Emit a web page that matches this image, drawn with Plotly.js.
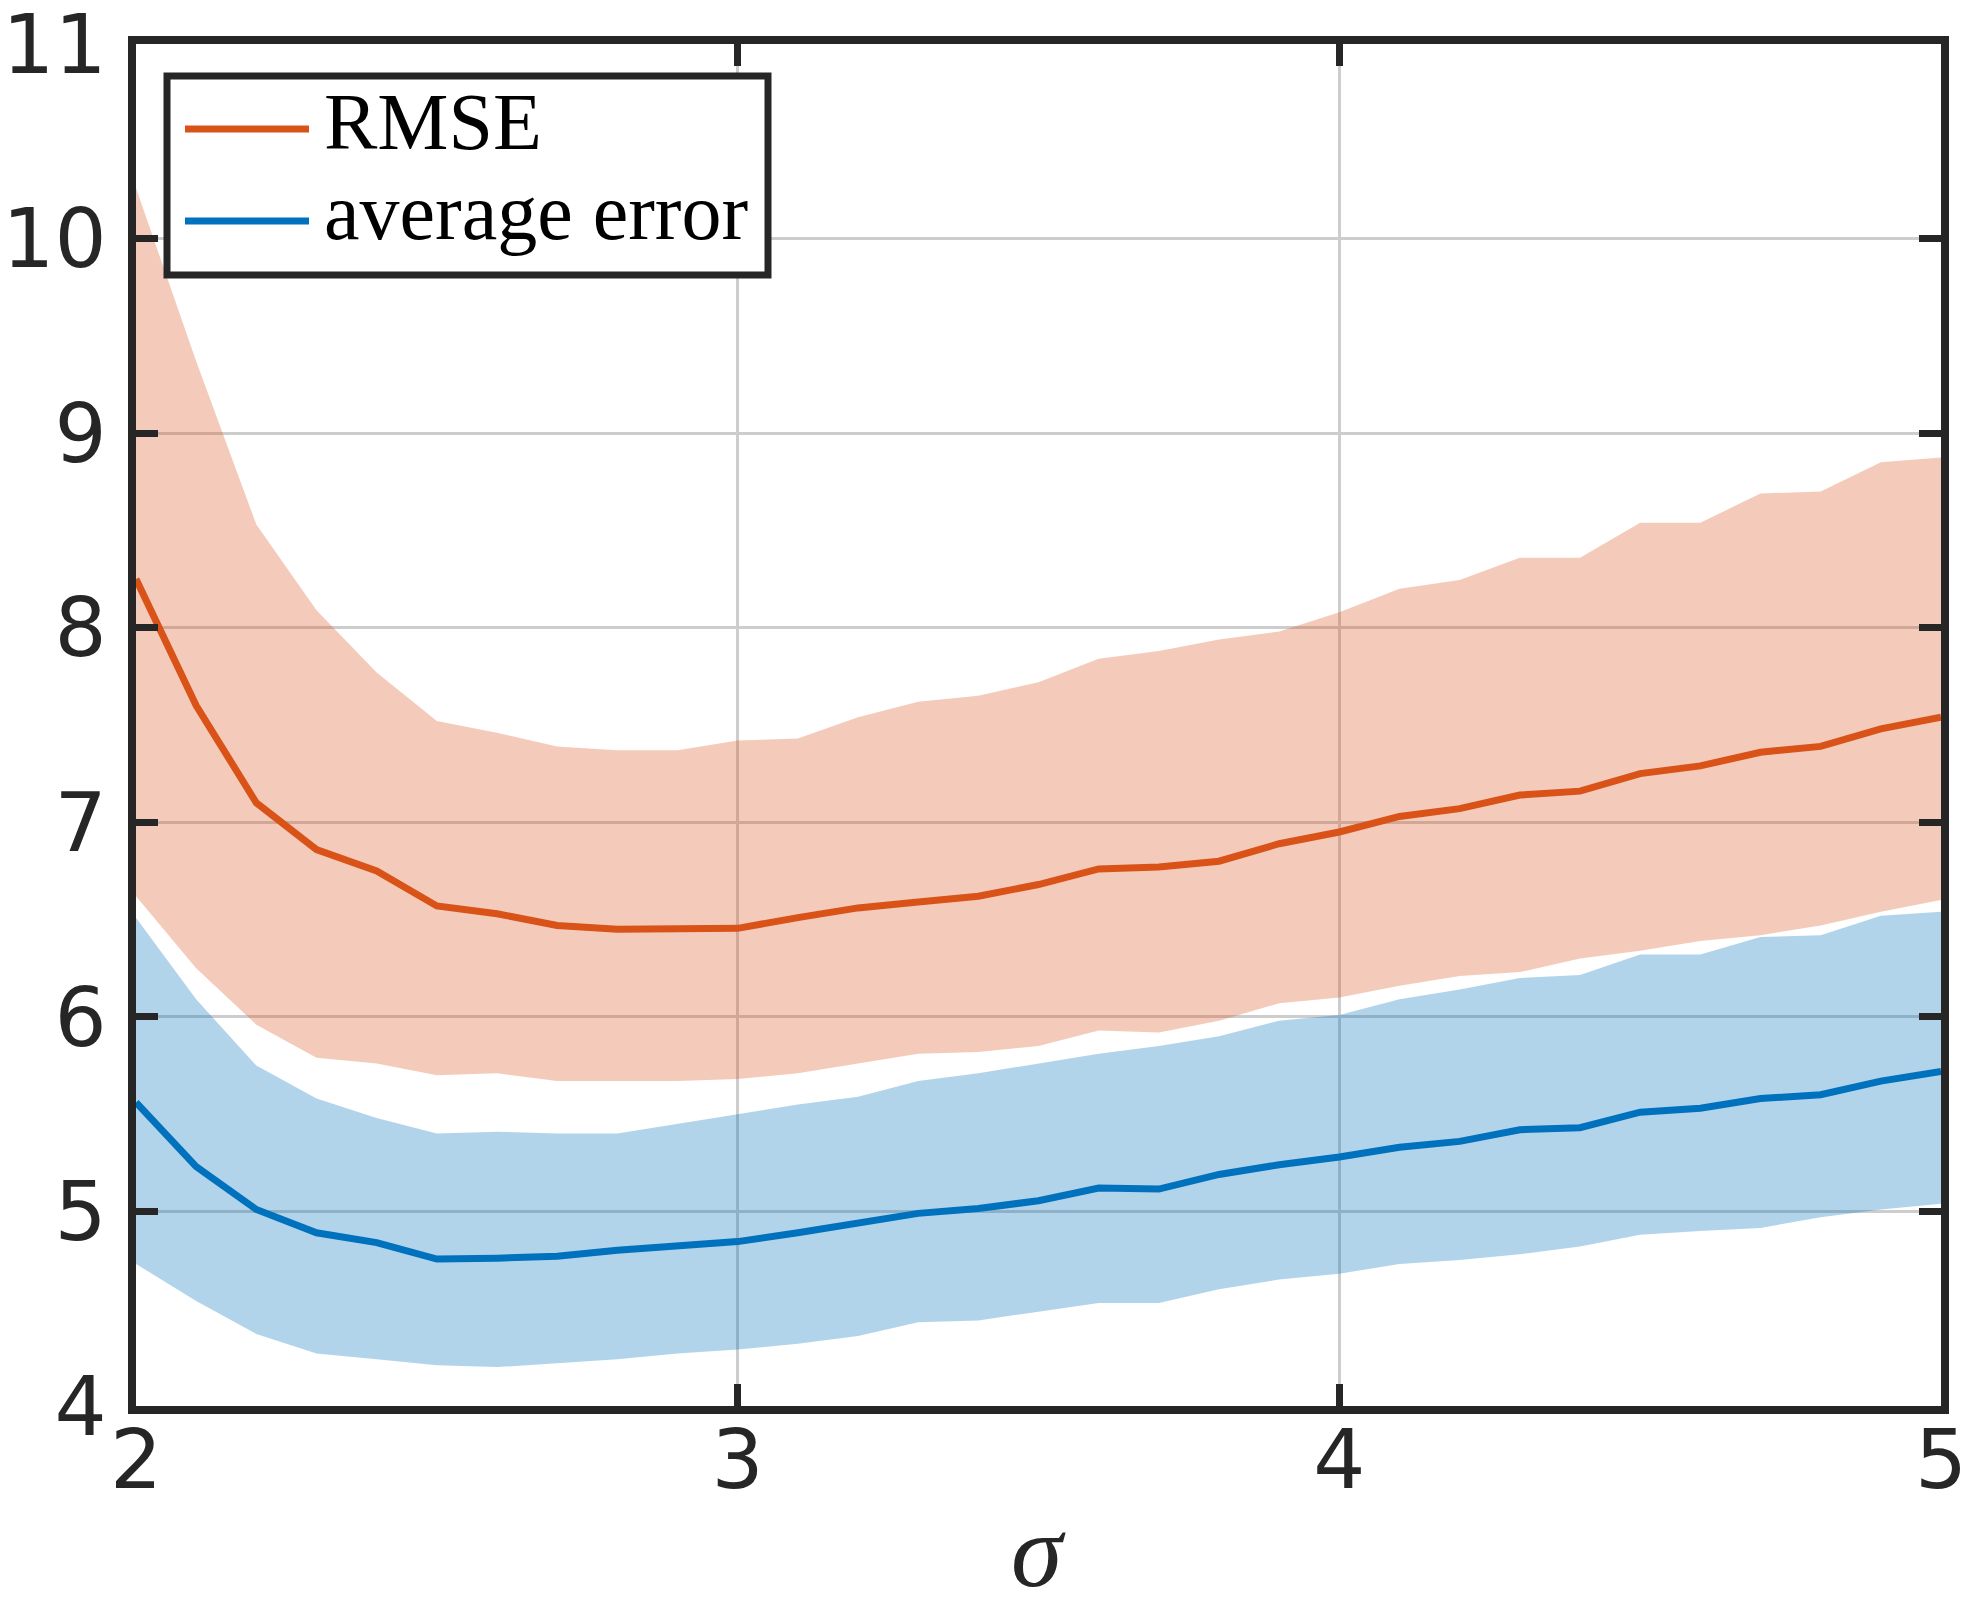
<!DOCTYPE html>
<html>
<head>
<meta charset="utf-8">
<script src="https://cdn.plot.ly/plotly-3.0.1.min.js"></script>
<style>
  html, body { margin: 0; padding: 0; background: #fff; }
  #chart { width: 1971px; height: 1601px; }
</style>
</head>
<body>
<div id="chart"></div>
<script>
'use strict';

// sigma values (x axis)
const sigma = [2.0, 2.1, 2.2, 2.3, 2.4, 2.5, 2.6, 2.7, 2.8, 2.9, 3.0,
               3.1, 3.2, 3.3, 3.4, 3.5, 3.6, 3.7, 3.8, 3.9, 4.0,
               4.1, 4.2, 4.3, 4.4, 4.5, 4.6, 4.7, 4.8, 4.9, 5.0];

const rmse = [8.25, 7.60, 7.10, 6.86, 6.75, 6.57, 6.53, 6.47, 6.45, 6.45, 6.455,
              6.51, 6.56, 6.59, 6.62, 6.68, 6.76, 6.77, 6.80, 6.89, 6.95,
              7.03, 7.07, 7.14, 7.16, 7.25, 7.29, 7.36, 7.39, 7.48, 7.54];
const rmseUpper = [10.26, 9.37, 8.53, 8.09, 7.77, 7.52, 7.46, 7.39, 7.37, 7.37, 7.42,
                   7.43, 7.54, 7.62, 7.65, 7.72, 7.84, 7.88, 7.94, 7.98, 8.08,
                   8.20, 8.245, 8.36, 8.36, 8.54, 8.54, 8.69, 8.70, 8.85, 8.875];
const rmseLower = [6.62, 6.25, 5.96, 5.79, 5.76, 5.70, 5.71, 5.67, 5.67, 5.67, 5.68,
                   5.71, 5.76, 5.81, 5.82, 5.85, 5.93, 5.92, 5.98, 6.07, 6.10,
                   6.16, 6.21, 6.23, 6.30, 6.34, 6.39, 6.42, 6.47, 6.54, 6.60];

const avgErr = [5.56, 5.23, 5.01, 4.89, 4.84, 4.755, 4.76, 4.77, 4.80, 4.82, 4.845,
                4.89, 4.94, 4.99, 5.015, 5.055, 5.12, 5.115, 5.19, 5.24, 5.28,
                5.33, 5.36, 5.42, 5.43, 5.51, 5.53, 5.58, 5.60, 5.67, 5.72];
const avgUpper = [6.51, 6.09, 5.75, 5.58, 5.48, 5.40, 5.41, 5.40, 5.40, 5.45, 5.50,
                  5.55, 5.59, 5.67, 5.71, 5.76, 5.81, 5.85, 5.90, 5.98, 6.01,
                  6.09, 6.14, 6.20, 6.215, 6.32, 6.32, 6.41, 6.42, 6.52, 6.54];
const avgLower = [4.73, 4.54, 4.37, 4.27, 4.24, 4.21, 4.20, 4.22, 4.24, 4.27, 4.29,
                  4.32, 4.36, 4.43, 4.44, 4.485, 4.53, 4.53, 4.60, 4.65, 4.68,
                  4.73, 4.75, 4.78, 4.82, 4.88, 4.90, 4.915, 4.97, 5.01, 5.04];

const xTicks = [2, 3, 4, 5];
const yTicks = [4, 5, 6, 7, 8, 9, 10, 11];
const legendLabels = ['RMSE', 'average error'];
const xLabel = '<i>σ</i>';

const ORANGE = '#D95319';
const BLUE = '#0072BD';
const INK = '#262626';

const W = 1971, H = 1601;
const M = { l: 136, r: 30, t: 44, b: 195 };
const plotW = W - M.l - M.r, plotH = H - M.t - M.b;
const px = x => (x - M.l) / plotW;
const py = y => 1 - (y - M.t) / plotH;

function band(lo, hi, fill) {
    return [
        { x: sigma, y: lo, type: 'scatter', mode: 'lines', line: { width: 0 },
          hoverinfo: 'skip', showlegend: false },
        { x: sigma, y: hi, type: 'scatter', mode: 'lines', line: { width: 0 },
          fill: 'tonexty', fillcolor: fill, hoverinfo: 'skip', showlegend: false }
    ];
}

const data = [
    ...band(rmseLower, rmseUpper, 'rgba(217,83,25,0.3)'),
    ...band(avgLower, avgUpper, 'rgba(0,114,189,0.3)'),
    { x: sigma, y: rmse, type: 'scatter', mode: 'lines', name: legendLabels[0],
      line: { color: ORANGE, width: 7 }, showlegend: false },
    { x: sigma, y: avgErr, type: 'scatter', mode: 'lines', name: legendLabels[1],
      line: { color: BLUE, width: 7 }, showlegend: false }
];

const axisCommon = {
    showline: true, linecolor: INK, linewidth: 8, mirror: 'ticks',
    ticks: 'inside', ticklen: 22, tickwidth: 7, tickcolor: INK,
    showgrid: true, gridcolor: '#cdcdcd', gridwidth: 3,
    zeroline: false, tickmode: 'array', ticklabeloverflow: 'allow',
    tickfont: { family: 'DejaVu Sans', size: 82, color: INK }
};

// hand-built legend box (MATLAB style, long line samples)
const shapes = [
    { type: 'rect', xref: 'paper', yref: 'paper', layer: 'above',
      x0: px(167), x1: px(768), y0: py(76), y1: py(275),
      line: { color: INK, width: 7 }, fillcolor: '#ffffff' },
    { type: 'line', xref: 'paper', yref: 'paper', layer: 'above',
      x0: px(185), x1: px(309), y0: py(129), y1: py(129),
      line: { color: ORANGE, width: 7 } },
    { type: 'line', xref: 'paper', yref: 'paper', layer: 'above',
      x0: px(185), x1: px(309), y0: py(221), y1: py(221),
      line: { color: BLUE, width: 7 } }
];

const legendFont = { family: 'Liberation Serif', size: 80, color: '#000000' };
const annotations = [
    { xref: 'paper', yref: 'paper', x: px(322), y: py(122), xanchor: 'left', yanchor: 'middle',
      text: legendLabels[0], showarrow: false, font: legendFont },
    { xref: 'paper', yref: 'paper', x: px(322), y: py(212), xanchor: 'left', yanchor: 'middle',
      text: legendLabels[1], showarrow: false, font: legendFont },
    { xref: 'paper', yref: 'paper', x: 0.5, y: py(1550), xanchor: 'center', yanchor: 'middle',
      text: xLabel, showarrow: false,
      font: { family: 'Liberation Serif', size: 104, color: INK } }
];

const layout = {
    width: W, height: H,
    margin: M,
    paper_bgcolor: '#ffffff', plot_bgcolor: '#ffffff',
    showlegend: false,
    xaxis: Object.assign({}, axisCommon, {
        range: [2, 5], tickvals: xTicks, ticktext: xTicks.map(String),
        ticklabelstandoff: -24
    }),
    yaxis: Object.assign({}, axisCommon, {
        range: [4, 11], tickvals: yTicks, ticktext: yTicks.map(String),
        ticklabelstandoff: 5
    }),
    shapes: shapes,
    annotations: annotations
};

Plotly.newPlot('chart', data, layout, { displayModeBar: false, staticPlot: true });
</script>
</body>
</html>
